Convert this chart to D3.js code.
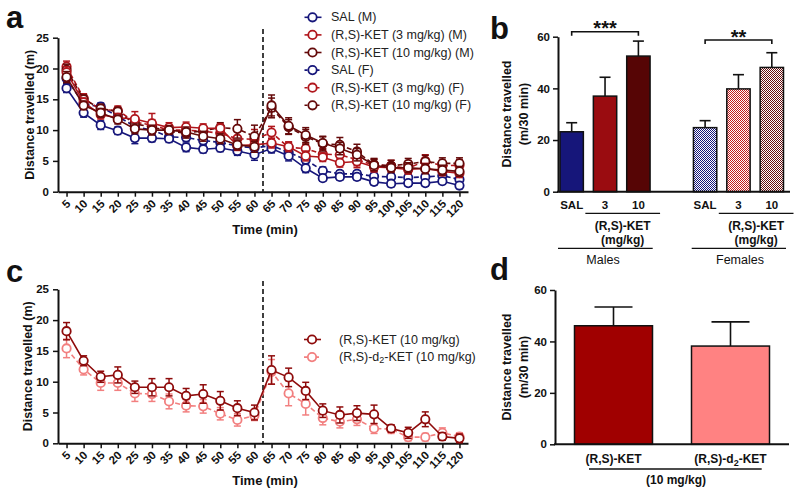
<!DOCTYPE html>
<html><head><meta charset="utf-8">
<script src="https://cdn.jsdelivr.net/npm/d3@7"></script>
<style>
body{margin:0;background:#fff;}
svg{font-family:"Liberation Sans",Arial,sans-serif;}
</style></head><body>
<svg id="chart" width="800" height="493"></svg>
<script>
// ---------- DATA ----------
const times = [5,10,15,20,25,30,35,40,45,50,55,60,65,70,75,80,85,90,95,100,105,110,115,120];
const yTicksA = [0,5,10,15,20,25];

const salM   = [16.8,12.8,10.8,9.9,8.7,8.7,8.6,7.2,6.9,7.1,6.6,6.0,7.0,5.8,3.8,2.2,2.4,2.4,1.6,1.3,1.4,1.4,1.7,1.0];
const salMSem= [0.7,0.7,0.7,0.6,0.9,0.6,0.6,0.7,0.6,0.6,0.7,0.9,0.7,0.8,0.7,0.5,0.5,0.5,0.5,0.5,0.5,0.5,0.5,0.5];
const salF   = [18.4,14.2,13.8,12.2,10.6,10.0,8.9,8.8,8.3,8.0,7.4,7.1,7.5,6.4,5.2,3.4,2.9,2.9,2.5,2.4,2.3,2.4,2.6,2.0];
const salFSem= [0.8,0.7,0.6,0.7,0.7,0.6,0.6,0.6,0.6,0.6,0.6,0.7,0.6,0.6,0.6,0.6,0.5,0.5,0.5,0.5,0.5,0.5,0.5,0.5];
const ket3M  = [19.4,14.5,12.5,12.0,11.8,11.1,10.4,10.5,10.3,10.3,7.5,7.6,7.9,7.3,5.8,5.6,4.7,4.9,4.0,3.9,3.6,3.8,3.3,3.0];
const ket3MSem=[0.9,0.7,0.7,0.7,1.2,1.6,0.8,0.8,0.7,0.7,0.8,0.8,0.8,0.8,0.8,0.7,0.7,0.7,0.8,0.7,0.7,0.8,0.7,0.7];
const ket10M = [18.6,14.0,12.8,11.7,10.2,10.0,10.0,9.7,9.0,8.6,7.6,7.3,14.0,10.7,9.2,7.9,7.0,6.0,4.3,3.9,3.9,3.7,3.5,3.3];
const ket10MSem=[0.9,0.7,0.7,0.7,0.8,0.8,0.7,0.8,0.8,0.8,0.8,0.9,1.7,1.3,1.2,1.0,1.0,1.0,0.9,0.8,0.8,0.8,0.8,0.8];
const ket3F  = [20.3,15.2,13.3,13.2,11.3,10.8,10.0,10.0,9.8,9.5,8.6,8.5,9.6,7.2,7.0,6.1,6.0,5.2,4.3,4.2,3.8,5.0,4.2,4.3];
const ket3FSem=[0.9,0.7,0.7,0.7,0.8,0.9,0.8,0.8,0.8,0.8,1.4,1.6,1.0,0.8,0.9,0.9,1.5,1.3,1.0,0.9,0.9,1.0,0.9,0.9];
const ket10F = [19.8,15.0,13.5,13.0,11.0,10.5,9.8,9.5,9.9,10.4,10.2,9.0,13.6,10.5,8.9,7.8,7.6,6.5,4.4,4.2,4.5,4.9,4.6,4.6];
const ket10FSem=[0.9,0.7,0.7,0.7,0.8,0.8,0.8,0.8,0.8,0.8,1.5,1.8,1.6,1.2,1.2,1.2,1.2,1.2,1.0,0.9,0.9,1.0,0.9,0.9];

const legendA = ["SAL (M)","(R,S)-KET (3 mg/kg) (M)","(R,S)-KET (10 mg/kg) (M)","SAL (F)","(R,S)-KET (3 mg/kg) (F)","(R,S)-KET (10 mg/kg) (F)"];

const bCats = ["SAL M","3 M","10 M","gap","SAL F","3 F","10 F"];
const bLabels = ["SAL","3","10","","SAL","3","10"];
const bValues = [23.2,37.0,52.5,null,24.8,39.8,48.1];
const bSem    = [3.5,7.3,5.8,null,2.7,5.5,5.7];
const yTicksB = [0,20,40,60];

const cKet    = [18.2,13.4,10.8,11.1,9.1,9.1,9.1,7.7,8.0,6.9,5.7,5.0,11.9,10.7,8.5,5.3,4.6,4.9,4.7,2.4,1.7,3.9,1.1,0.8];
const cKetSem = [1.4,0.8,0.9,1.3,1.0,1.4,1.4,1.2,1.5,1.5,1.2,1.2,2.3,1.5,1.4,1.1,1.3,1.2,1.5,0.6,0.9,1.2,0.6,0.7];
const cD2     = [15.4,12.0,9.8,9.8,8.1,8.0,6.8,6.1,6.0,4.8,3.8,4.5,11.6,8.1,6.4,4.1,3.5,3.9,2.4,2.3,1.0,1.0,1.7,1.1];
const cD2Sem  = [1.5,0.9,1.2,1.2,1.3,1.2,1.2,1.0,1.1,1.0,1.0,0.8,2.0,2.0,1.8,1.1,1.0,1.0,0.8,0.7,0.6,0.6,0.8,0.6];

const dCats = ["(R,S)-KET","(R,S)-d2-KET"];
const dValues = [46.1,38.2];
const dSem = [7.3,9.4];

// ---------- STYLE ----------
const NAVY="#16167a", RED="#b0161c", DARK="#640909", CRED="#8e0b0b", PINK="#f27f7f";
const svg = d3.select("#chart");
const defs = svg.append("defs");
function checker(id,color){
  const p=defs.append("pattern").attr("id",id).attr("patternUnits","userSpaceOnUse").attr("width",2).attr("height",2);
  p.append("rect").attr("width",2).attr("height",2).attr("fill","#fff");
  p.append("rect").attr("width",1).attr("height",1).attr("fill",color);
  p.append("rect").attr("x",1).attr("y",1).attr("width",1).attr("height",1).attr("fill",color);
}
checker("pNavy",NAVY); checker("pRed","#c41c1c"); checker("pDark","#6a1010");

function panelLabel(t,x,y){
  svg.append("text").attr("x",x).attr("y",y).text(t).attr("font-size",31).attr("font-weight","bold").attr("fill","#111");
}
function styleAxis(g){
  g.select(".domain").attr("stroke","#111").attr("stroke-width",2);
  g.selectAll(".tick line").attr("stroke","#111").attr("stroke-width",1.5);
  g.selectAll(".tick text").attr("font-size",11.5).attr("font-weight","bold").attr("fill","#111").attr("font-family","Liberation Sans, Arial, sans-serif");
}
function yTitle(lines,x0,yc,dx){
  lines.forEach((l,i)=>{
    svg.append("text").attr("transform",`translate(${x0+i*dx},${yc}) rotate(-90)`)
      .attr("text-anchor","middle").attr("dominant-baseline","central")
      .attr("font-size",12.5).attr("font-weight","bold").attr("fill","#111").text(l);
  });
}

// ---------- TIME-COURSE PANEL ----------
function timePanel(x0,y0,series,dashY0){
  const x=d3.scaleLinear().domain([2.5,122.5]).range([58,468]);
  const y=d3.scaleLinear().domain([0,25]).range([y0,y0-154]);
  const gy=svg.append("g").attr("transform","translate(58,0)")
    .call(d3.axisLeft(y).tickValues(yTicksA).tickSize(5).tickSizeOuter(0).tickPadding(4));
  styleAxis(gy);
  const gx=svg.append("g").attr("transform",`translate(0,${y0})`)
    .call(d3.axisBottom(x).tickValues(times).tickSize(5).tickSizeOuter(0));
  styleAxis(gx);
  gx.selectAll(".tick text").attr("transform","rotate(-45)").attr("text-anchor","end")
    .attr("x",-6).attr("y",8).attr("dy","0.35em");
  svg.append("text").attr("x",265).attr("y",y0+42).attr("text-anchor","middle")
    .attr("font-size",13).attr("font-weight","bold").attr("fill","#111").text("Time (min)");
  // dashed injection line
  svg.append("line").attr("x1",x(62.5)).attr("x2",x(62.5)).attr("y1",dashY0).attr("y2",y0)
    .attr("stroke","#111").attr("stroke-width",1.6).attr("stroke-dasharray","5,3");
  const line=d3.line().x((d,i)=>x(times[i])).y(d=>y(d));
  series.forEach(s=>{
    const g=svg.append("g");
    g.append("path").datum(s.v).attr("d",line).attr("fill","none").attr("stroke",s.c)
      .attr("stroke-width",1.6).attr("stroke-dasharray",s.dash?"5,3":null);
    s.v.forEach((v,i)=>{
      const cx=x(times[i]);
      const lo=y(v-s.e[i]), hi=y(v+s.e[i]);
      g.append("line").attr("x1",cx).attr("x2",cx).attr("y1",lo).attr("y2",hi).attr("stroke",s.c).attr("stroke-width",1.5);
      [lo,hi].forEach(yy=>g.append("line").attr("x1",cx-3.5).attr("x2",cx+3.5).attr("y1",yy).attr("y2",yy).attr("stroke",s.c).attr("stroke-width",1.5));
    });
    g.selectAll("circle").data(s.v).join("circle").attr("cx",(d,i)=>x(times[i])).attr("cy",d=>y(d))
      .attr("r",4.2).attr("fill","#fff").attr("stroke",s.c).attr("stroke-width",1.8);
  });
  return {x,y};
}
function legend(items,x0,y0,dy,tx){
  items.forEach((it,i)=>{
    const yy=y0+i*dy;
    svg.append("line").attr("x1",x0-8).attr("x2",x0+9).attr("y1",yy).attr("y2",yy).attr("stroke",it.c)
      .attr("stroke-width",1.6).attr("stroke-dasharray",it.dash?"3,3":null);
    svg.append("circle").attr("cx",x0).attr("cy",yy).attr("r",4.2).attr("fill","#fff").attr("stroke",it.c).attr("stroke-width",1.8);
    const t=svg.append("text").attr("x",tx).attr("y",yy).attr("dominant-baseline","central")
      .attr("font-size",12.5).attr("fill","#222");
    if(it.sub){
      t.append("tspan").text(it.sub[0]);
      t.append("tspan").attr("font-size",9).attr("dy",3).text(it.sub[1]);
      t.append("tspan").attr("dy",-3).text(it.sub[2]);
    } else t.text(it.t);
  });
}

// Panel a
panelLabel("a",6,28);
const seriesA=[
  {v:salF,e:salFSem,c:NAVY,dash:true},
  {v:ket3F,e:ket3FSem,c:RED,dash:true},
  {v:ket10F,e:ket10FSem,c:DARK,dash:true},
  {v:salM,e:salMSem,c:NAVY,dash:false},
  {v:ket3M,e:ket3MSem,c:RED,dash:false},
  {v:ket10M,e:ket10MSem,c:DARK,dash:false}
];
timePanel(58,191.7,seriesA,29);
yTitle(["Distance travelled (m)"],30,114.7,0);
legend([
  {t:legendA[0],c:NAVY},{t:legendA[1],c:RED},{t:legendA[2],c:DARK},
  {t:legendA[3],c:NAVY,dash:true},{t:legendA[4],c:RED,dash:true},{t:legendA[5],c:DARK,dash:true}
],312.5,17.3,17.6,331);

// Panel c
panelLabel("c",6,282);
timePanel(58,443.3,[{v:cD2,e:cD2Sem,c:PINK,dash:true},{v:cKet,e:cKetSem,c:CRED,dash:false}],281);
yTitle(["Distance travelled (m)"],28,366.3,0);
legend([{t:"(R,S)-KET (10 mg/kg)",c:CRED},{sub:["(R,S)-d","2","-KET (10 mg/kg)"],c:PINK,dash:true}],312,339.5,17.6,339);

// Panel b
panelLabel("b",490,39);
const xb=d3.scaleBand().domain(bCats).range([555,788.5]).paddingInner(0.3).paddingOuter(0.15);
const yb=d3.scaleLinear().domain([0,60]).range([191.7,36.7]);
yTitle(["Distance travelled","(m/30 min)"],507,114,16.5);
const fillsB=[NAVY,"#9a0c10","#560505",null,"url(#pNavy)","url(#pRed)","url(#pDark)"];
bCats.forEach((c,i)=>{
  if(bValues[i]==null) return;
  const cx=xb(c)+xb.bandwidth()/2;
  svg.append("line").attr("x1",cx).attr("x2",cx).attr("y1",yb(bValues[i])).attr("y2",yb(bValues[i]+bSem[i])).attr("stroke","#111").attr("stroke-width",1.6);
  svg.append("line").attr("x1",cx-5.5).attr("x2",cx+5.5).attr("y1",yb(bValues[i]+bSem[i])).attr("y2",yb(bValues[i]+bSem[i])).attr("stroke","#111").attr("stroke-width",1.6);
  svg.append("rect").attr("x",xb(c)).attr("y",yb(bValues[i])).attr("width",xb.bandwidth()).attr("height",yb(0)-yb(bValues[i]))
    .attr("fill",fillsB[i]).attr("stroke","#111").attr("stroke-width",1.5);
});
const gyb=svg.append("g").attr("transform","translate(558,0)").call(d3.axisLeft(yb).tickValues(yTicksB).tickSize(5).tickSizeOuter(0).tickPadding(3));
styleAxis(gyb);
svg.append("line").attr("x1",557).attr("x2",790).attr("y1",191.7).attr("y2",191.7).attr("stroke","#111").attr("stroke-width",2);
bCats.forEach((c,i)=>{
  if(!bLabels[i]) return;
  svg.append("text").attr("x",xb(c)+xb.bandwidth()/2).attr("y",209).attr("text-anchor","middle")
    .attr("font-size",11.5).attr("font-weight","bold").attr("fill","#111").text(bLabels[i]);
});
function hline(x1,x2,y,w){svg.append("line").attr("x1",x1).attr("x2",x2).attr("y1",y).attr("y2",y).attr("stroke","#111").attr("stroke-width",w||1.3);}
function ctext(t,x,y,sz,bold){svg.append("text").attr("x",x).attr("y",y).attr("text-anchor","middle").attr("font-size",sz).attr("font-weight",bold?"bold":"normal").attr("fill","#111").text(t);}
[["3 M","10 M"],["3 F","10 F"]].forEach(([a,b])=>{
  const x1=xb(a)-8, x2=xb(b)+xb.bandwidth()+10;
  hline(x1,x2,213.3);
  ctext("(R,S)-KET",(x1+x2)/2,229.5,12,true);
  ctext("(mg/kg)",(x1+x2)/2,244,12,true);
});
hline(558,652.7,248.3); hline(691.7,786,248.3);
ctext("Males",603,264,12.5,false); ctext("Females",740,264,12.5,false);
// significance brackets
function bracket(a,b,yy,stars,sy){
  const x1=xb(a)+xb.bandwidth()/2, x2=xb(b)+xb.bandwidth()/2;
  svg.append("path").attr("d",`M${x1},${yy+4}V${yy}H${x2}V${yy+4}`).attr("fill","none").attr("stroke","#111").attr("stroke-width",1.6);
  ctext(stars,(x1+x2)/2,sy,20,true);
}
bracket("SAL M","10 M",31.7,"***",35);
bracket("SAL F","10 F",40,"**",43.5);

// Panel d
panelLabel("d",490,280);
const xd=d3.scaleBand().domain(dCats).range([555,789]).paddingInner(1/3).paddingOuter(1/6);
const yd=d3.scaleLinear().domain([0,60]).range([444.3,290]);
yTitle(["Distance travelled","(m/30 min)"],507,367,16.5);
const fillsD=["#a00000","#ff8282"];
dCats.forEach((c,i)=>{
  const cx=xd(c)+xd.bandwidth()/2;
  svg.append("line").attr("x1",cx).attr("x2",cx).attr("y1",yd(dValues[i])).attr("y2",yd(dValues[i]+dSem[i])).attr("stroke","#111").attr("stroke-width",1.6);
  svg.append("line").attr("x1",cx-19).attr("x2",cx+19).attr("y1",yd(dValues[i]+dSem[i])).attr("y2",yd(dValues[i]+dSem[i])).attr("stroke","#111").attr("stroke-width",1.6);
  svg.append("rect").attr("x",xd(c)).attr("y",yd(dValues[i])).attr("width",xd.bandwidth()).attr("height",yd(0)-yd(dValues[i]))
    .attr("fill",fillsD[i]).attr("stroke","#111").attr("stroke-width",1.5);
});
const gyd=svg.append("g").attr("transform","translate(555,0)").call(d3.axisLeft(yd).tickValues(yTicksB).tickSize(5).tickSizeOuter(0).tickPadding(3));
styleAxis(gyd);
svg.append("line").attr("x1",554).attr("x2",789).attr("y1",444.3).attr("y2",444.3).attr("stroke","#111").attr("stroke-width",2);
ctext("(R,S)-KET",xd(dCats[0])+xd.bandwidth()/2,462.5,12,true);
const t2=svg.append("text").attr("x",xd(dCats[1])+xd.bandwidth()/2).attr("y",462.5).attr("text-anchor","middle")
  .attr("font-size",12).attr("font-weight","bold").attr("fill","#111");
t2.append("tspan").text("(R,S)-d"); t2.append("tspan").attr("font-size",9).attr("dy",3).text("2"); t2.append("tspan").attr("dy",-3).text("-KET");
hline(589,761.7,469);
ctext("(10 mg/kg)",676,483.5,12,true);
</script>
</body></html>
